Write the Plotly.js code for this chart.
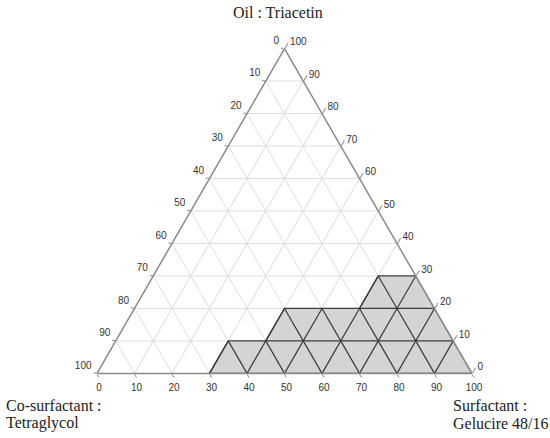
<!DOCTYPE html>
<html>
<head>
<meta charset="utf-8">
<script src="https://cdn.plot.ly/plotly-3.0.1.min.js"></script>
<style>html,body{margin:0;padding:0;background:#fff;}#chart{width:550px;height:438px;}</style>
</head>
<body>
<div id="chart"></div>
<script>
// Tick values along each side (percent)
var tickValues = [0, 10, 20, 30, 40, 50, 60, 70, 80, 90, 100];
// Labels shown on each side (reference labels each edge with the adjacent component)
var leftTickLabels   = ["100", "90", "80", "70", "60", "50", "40", "30", "20", "10", "0"];   // co-surfactant, on left edge
var bottomTickLabels = ["100", "90", "80", "70", "60", "50", "40", "30", "20", "10", "0"];   // surfactant, on bottom edge
var rightTickLabels  = ["100", "90", "80", "70", "60", "50", "40", "30", "20", "10", "0"];   // oil, on right edge

// Shaded (self-emulsifying) region boundary vertices, in percent
var regionOil  = [0, 10, 10, 20, 20, 30, 30, 0];
var regionCo   = [70, 60, 50, 40, 20, 10, 0, 0];
var regionSurf = [30, 30, 40, 40, 60, 60, 70, 100];

var gridStep = 10;

// Cartesian helper for inside test
function toXY(a, c) { return [c + a / 2, a * Math.sqrt(3) / 2]; }
var poly = regionOil.map(function (a, i) { return toXY(a, regionSurf[i]); });
function inside(x, y) {
  var ins = false;
  for (var i = 0, j = poly.length - 1; i < poly.length; j = i++) {
    var xi = poly[i][0], yi = poly[i][1], xj = poly[j][0], yj = poly[j][1];
    if (((yi > y) !== (yj > y)) && (x < (xj - xi) * (y - yi) / (yj - yi) + xi)) ins = !ins;
  }
  return ins;
}

// Grid segments lying inside the shaded region (drawn dark)
var segA = [], segB = [], segC = [];
function addSeg(a1, c1, a2, c2) {
  var m = toXY((a1 + a2) / 2, (c1 + c2) / 2);
  if (!inside(m[0], m[1])) return;
  segA.push(a1, a2, null); segC.push(c1, c2, null); segB.push(100 - a1 - c1, 100 - a2 - c2, null);
}
for (var v = gridStep; v < 100; v += gridStep) {
  for (var k = 0; k + gridStep <= 100 - v; k += gridStep) {
    addSeg(v, k, v, k + gridStep);                       // constant oil
    addSeg(k, v, k + gridStep, v);                       // constant surfactant
    addSeg(k, 100 - v - k, k + gridStep, 100 - v - k - gridStep); // constant co-surfactant
  }
}

var closedA = regionOil.concat([regionOil[0]]);
var closedB = regionCo.concat([regionCo[0]]);
var closedC = regionSurf.concat([regionSurf[0]]);

var traces = [
  {
    type: 'scatterternary', mode: 'lines',
    a: closedA, b: closedB, c: closedC,
    fill: 'toself', fillcolor: '#d4d4d4',
    line: {color: '#3c3c3c', width: 1.3},
    hoverinfo: 'skip', showlegend: false
  },
  {
    type: 'scatterternary', mode: 'lines',
    a: segA, b: segB, c: segC,
    line: {color: '#3c3c3c', width: 1.2},
    connectgaps: false,
    hoverinfo: 'skip', showlegend: false
  }
];

function axis(labels, len) {
  return {
    tickmode: 'array', tickvals: tickValues, ticktext: labels,
    ticks: 'outside', ticklen: len, tickcolor: '#8a8a8a', tickwidth: 1,
    linecolor: '#8a8a8a', linewidth: 1.5,
    showgrid: true, gridcolor: '#dedede', gridwidth: 1,
    tickfont: {family: 'Liberation Sans, Arial, sans-serif', size: 10, color: '#333'},
    title: {text: ''}, min: 0
  };
}

var serif = 'Liberation Serif, Times New Roman, serif';
function label(t, x, y) {
  return {text: t, xref: 'paper', yref: 'paper', x: x / 550, y: 1 - y / 438,
    xanchor: 'left', yanchor: 'middle', align: 'left', showarrow: false,
    font: {family: serif, size: 16, color: '#222'}};
}
var leftAxis = axis(leftTickLabels.map(function (s) { return s + '<br> '; }), 3);
var layout = {
  width: 550, height: 438,
  margin: {l: 0, r: 0, t: 0, b: 0},
  paper_bgcolor: '#fff',
  showlegend: false,
  ternary: {
    sum: 100,
    domain: {x: [97 / 550, 472 / 550], y: [64 / 438, 390 / 438]},
    bgcolor: '#fff',
    aaxis: leftAxis,
    baxis: axis(bottomTickLabels, 4),
    caxis: axis(rightTickLabels, 6)
  },
  annotations: [
    {text: 'Oil : Triacetin', xref: 'paper', yref: 'paper', x: 278 / 550, y: 1 - 13 / 438,
     xanchor: 'center', yanchor: 'middle', showarrow: false, font: {family: serif, size: 16, color: '#222'}},
    label('Co-surfactant :', 4, 405),
    label('Tetraglycol', 4, 423),
    label('Surfactant :', 451, 405),
    label('Gelucire 48/16', 451, 423)
  ]
};

Plotly.newPlot('chart', traces, layout, {displayModeBar: false, staticPlot: true});
</script>
</body>
</html>
